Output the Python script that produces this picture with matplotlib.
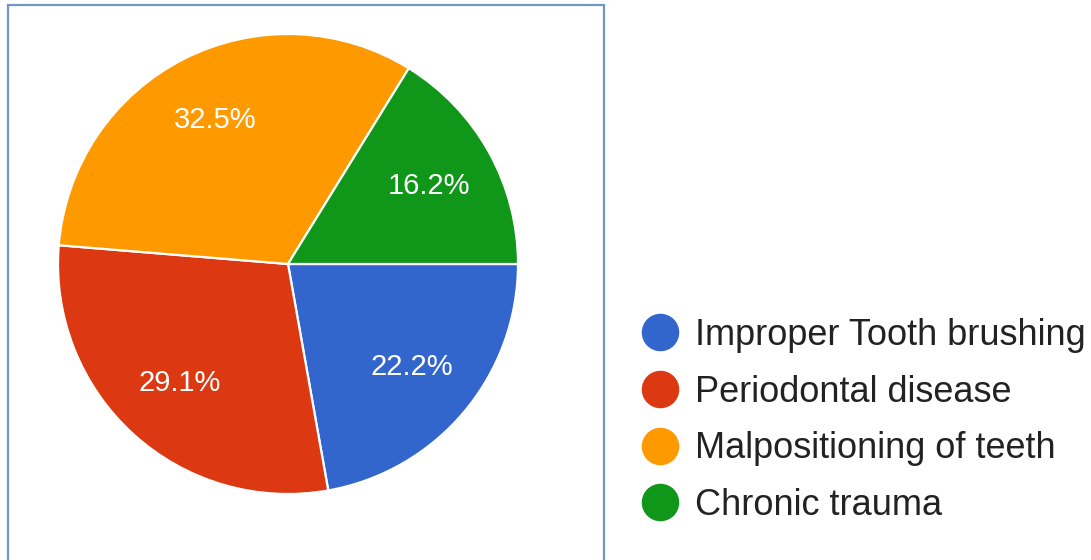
import matplotlib.pyplot as plt
from matplotlib.lines import Line2D
from matplotlib.patches import Rectangle

# data
causes = ['Improper Tooth brushing', 'Periodontal disease',
          'Malpositioning of teeth', 'Chronic trauma']
shares = [22.2, 29.1, 32.5, 16.2]
colors = ['#3366cc', '#dc3912', '#ff9900', '#109618']

plt.rcParams['font.family'] = ['Liberation Sans', 'DejaVu Sans']

W, H = 1091, 560
fig = plt.figure(figsize=(W / 100, H / 100), dpi=100)

# blue frame around the pie (bottom edge runs off the picture)
fig.patches.append(Rectangle((8 / W, -0.05), 596 / W, (H - 5) / H + 0.05,
                             transform=fig.transFigure, fill=False,
                             edgecolor='#6f97c8', linewidth=1.6))

# pie axes: centre (288, 264) px, radius 230 px
ax = fig.add_axes([58 / W, (H - 264 - 230) / H, 460 / W, 460 / H])
wedges, _, autotexts = ax.pie(shares, colors=colors, startangle=0, counterclock=False,
                              autopct='%1.1f%%', pctdistance=0.7,
                              wedgeprops=dict(edgecolor='white', linewidth=1.6),
                              textprops=dict(color='white', fontsize=21))
ax.set_xlim(-1, 1)
ax.set_ylim(-1, 1)
ax.set_aspect('equal')

handles = [Line2D([], [], marker='o', linestyle='none', markersize=26,
                  markerfacecolor=c, markeredgecolor=c) for c in colors]
fig.legend(handles, causes, loc='upper left', bbox_to_anchor=(643 / W, 1 - 318 / H),
           frameon=False, fontsize=26, labelcolor='#222222',
           handlelength=0.95, handletextpad=0.5, labelspacing=0.6, borderpad=0,
           borderaxespad=0)

fig.savefig('out.png', dpi=100)
